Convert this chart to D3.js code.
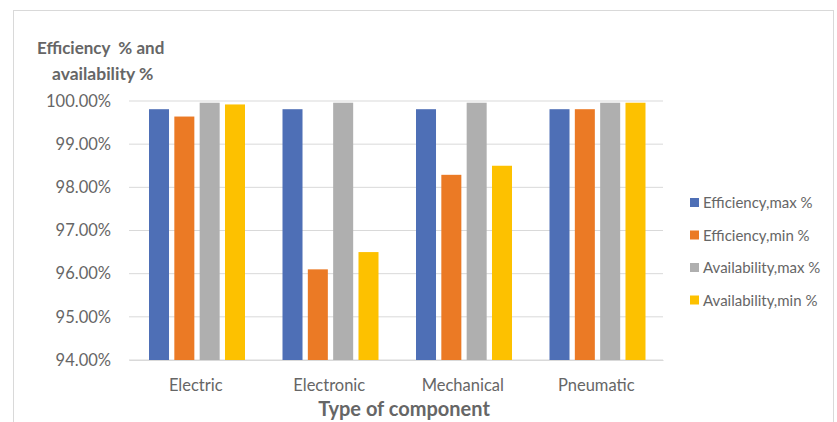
<!DOCTYPE html>
<html><head><meta charset="utf-8">
<script src="https://cdn.jsdelivr.net/npm/d3@7"></script>
<style>body{margin:0;background:#fff;} text{font-family:Lato,"Open Sans",sans-serif;}</style>
</head><body>
<svg id="c" width="837" height="422"></svg>
<script>
const categories = ["Electric","Electronic","Mechanical","Pneumatic"];
const seriesNames = ["Efficiency,max %","Efficiency,min %","Availability,max %","Availability,min %"];
const effMax = [99.81, 99.81, 99.81, 99.81];
const effMin = [99.64, 96.10, 98.29, 99.81];
const availMax = [99.96, 99.96, 99.96, 99.96];
const availMin = [99.92, 96.50, 98.50, 99.96];
const yTicks = [94, 95, 96, 97, 98, 99, 100];
const colors = ["#4E6FB6","#EB7A25","#AFAFAF","#FDC100"];

const seriesVals = [effMax, effMin, availMax, availMin];
const txt = "#666666";
const svg = d3.select("#c");
svg.append("rect").attr("x",13.5).attr("y",10.5).attr("width",820).attr("height",420)
  .attr("fill","#fff").attr("stroke","#d9d9d9");

const x0 = d3.scaleBand().domain(categories).range([129,663]);
const x1 = d3.scaleBand().domain(d3.range(4)).range([20,116]).paddingInner(0.21);
const y = d3.scaleLinear().domain([94,100]).range([360,101]);

svg.append("g").selectAll("line").data(yTicks).join("line")
  .attr("x1",129).attr("x2",663).attr("y1",d=>y(d)).attr("y2",d=>y(d))
  .attr("stroke","#d9d9d9").attr("stroke-width",1);

const yAxis = d3.axisLeft(y).tickValues(yTicks).tickFormat(d=>d.toFixed(2)+"%").tickSize(0).tickPadding(0);
const gy = svg.append("g").attr("transform","translate(111,0)").call(yAxis);
gy.select(".domain").remove();
gy.selectAll("text").attr("fill",txt).style("font-size","16.5px").style("font-family","Lato, sans-serif");

categories.forEach((c,ci)=>{
  svg.append("g").selectAll("rect").data(seriesVals.map((s,si)=>({si, v:s[ci]}))).join("rect")
    .attr("x",d=>x0(c)+x1(d.si)).attr("width",x1.bandwidth())
    .attr("y",d=>y(d.v)).attr("height",d=>y(94)-y(d.v))
    .attr("fill",d=>colors[d.si]);
});

const xAxis = d3.axisBottom(x0).tickSize(0).tickPadding(19);
const gx = svg.append("g").attr("transform","translate(0,360)").call(xAxis);
gx.select(".domain").attr("stroke","#d9d9d9");
gx.selectAll("text").attr("fill",txt).style("font-size","16.5px").style("font-family","Lato, sans-serif");

svg.append("text").attr("x",37).attr("y",54).attr("fill",txt).style("white-space","pre").style("font-size","17px").style("font-weight","bold").text("Efficiency  % and");
svg.append("text").attr("x",52).attr("y",80).attr("fill",txt).style("font-size","17.5px").style("font-weight","bold").text("availability %");
svg.append("text").attr("x",404).attr("y",416).attr("text-anchor","middle").attr("fill",txt).style("font-size","20px").style("font-weight","bold").text("Type of component");

const lg = svg.append("g").selectAll("g").data(seriesNames).join("g")
  .attr("transform",(d,i)=>`translate(690,${203+i*32.5})`);
lg.append("rect").attr("x",0).attr("y",-5).attr("width",9).attr("height",9).attr("fill",(d,i)=>colors[i]);
lg.append("text").attr("x",13).attr("y",5).attr("fill",txt).style("font-size","15px").text(d=>d);
</script>
</body></html>
